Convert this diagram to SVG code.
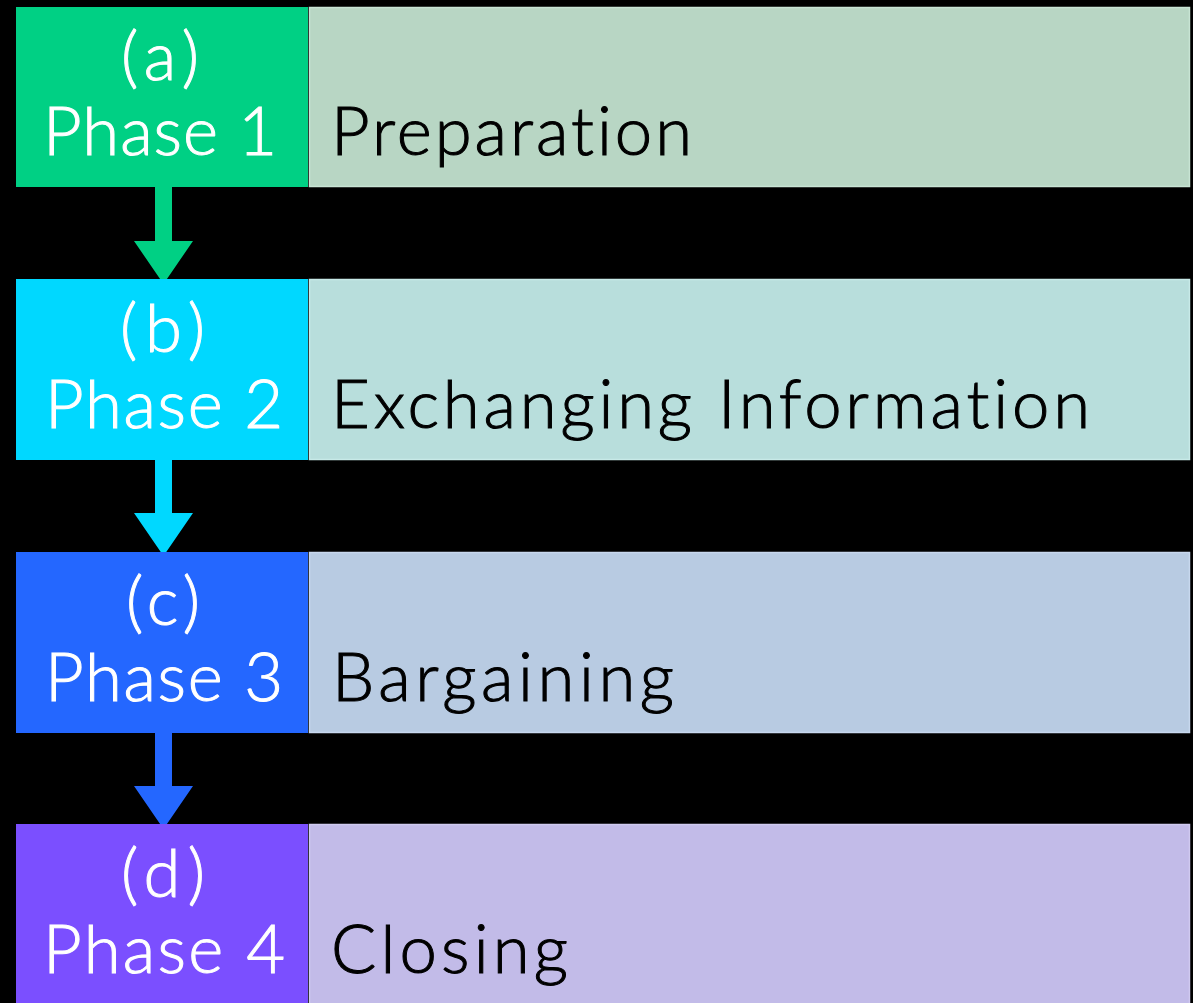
<svg xmlns="http://www.w3.org/2000/svg" width="1193" height="1003" viewBox="0 0 1193 1003">
  <style>
    text { font-family: Lato, "Noto Sans", "Liberation Sans", sans-serif; font-size: 67px; font-weight: 300; font-variant-ligatures: none; stroke-width: 1; }
    .tag { fill: #ffffff; stroke: #ffffff; text-anchor: middle; }
    .name { fill: #000000; stroke: #000000; }
    .desc { stroke-width: 1.5; }
  </style>
  <rect x="0" y="0" width="1193" height="1003" fill="#000000"/>

  <g id="connectors">
    <path d="M155 187 H172 V241 H193 L163.5 284 L134 241 H155 Z" fill="#00D084"/>
    <path d="M155 460 H172 V513 H193 L163.5 556 L134 513 H155 Z" fill="#00D8FF"/>
    <path d="M155 733 H172 V786 H193 L163.5 829 L134 786 H155 Z" fill="#2467FF"/>
  </g>

  <g id="phase1">
    <rect x="16" y="7" width="292" height="180" fill="#00D084"/>
    <rect class="desc" x="309.5" y="7.5" width="880" height="179" fill="#B8D6C4" stroke="#C8E4D4"/>
    <text class="tag" x="160" y="80" textLength="78" lengthAdjust="spacing">(a)</text>
    <text class="tag" x="160" y="155" textLength="234" lengthAdjust="spacing">Phase 1</text>
    <text class="name" x="331" y="155" textLength="361" lengthAdjust="spacing">Preparation</text>
  </g>

  <g id="phase2">
    <rect x="16" y="279" width="292" height="181" fill="#00D8FF"/>
    <rect class="desc" x="309.5" y="279.5" width="880" height="180" fill="#B8DEDC" stroke="#C8EAE8"/>
    <text class="tag" x="162.5" y="352" textLength="85" lengthAdjust="spacing">(b)</text>
    <text class="tag" x="164" y="428" textLength="238" lengthAdjust="spacing">Phase 2</text>
    <text class="name" x="331" y="428" textLength="759" lengthAdjust="spacing">Exchanging Information</text>
  </g>

  <g id="phase3">
    <rect x="16" y="552" width="292" height="181" fill="#2467FF"/>
    <rect class="desc" x="309.5" y="552.5" width="880" height="180" fill="#B8CBE2" stroke="#C8D8EE"/>
    <text class="tag" x="163" y="625" textLength="74" lengthAdjust="spacing">(c)</text>
    <text class="tag" x="164" y="701" textLength="238" lengthAdjust="spacing">Phase 3</text>
    <text class="name" x="332" y="701" textLength="342" lengthAdjust="spacing">Bargaining</text>
  </g>

  <g id="phase4">
    <rect x="16" y="824" width="292" height="179" fill="#7B4FFF"/>
    <rect class="desc" x="309.5" y="824.5" width="880" height="180" fill="#C2BBE8" stroke="#D0CAF0"/>
    <text class="tag" x="163" y="897" textLength="84" lengthAdjust="spacing">(d)</text>
    <text class="tag" x="164" y="973" textLength="242" lengthAdjust="spacing">Phase 4</text>
    <text class="name" x="331" y="973" textLength="237" lengthAdjust="spacing">Closing</text>
  </g>
</svg>
